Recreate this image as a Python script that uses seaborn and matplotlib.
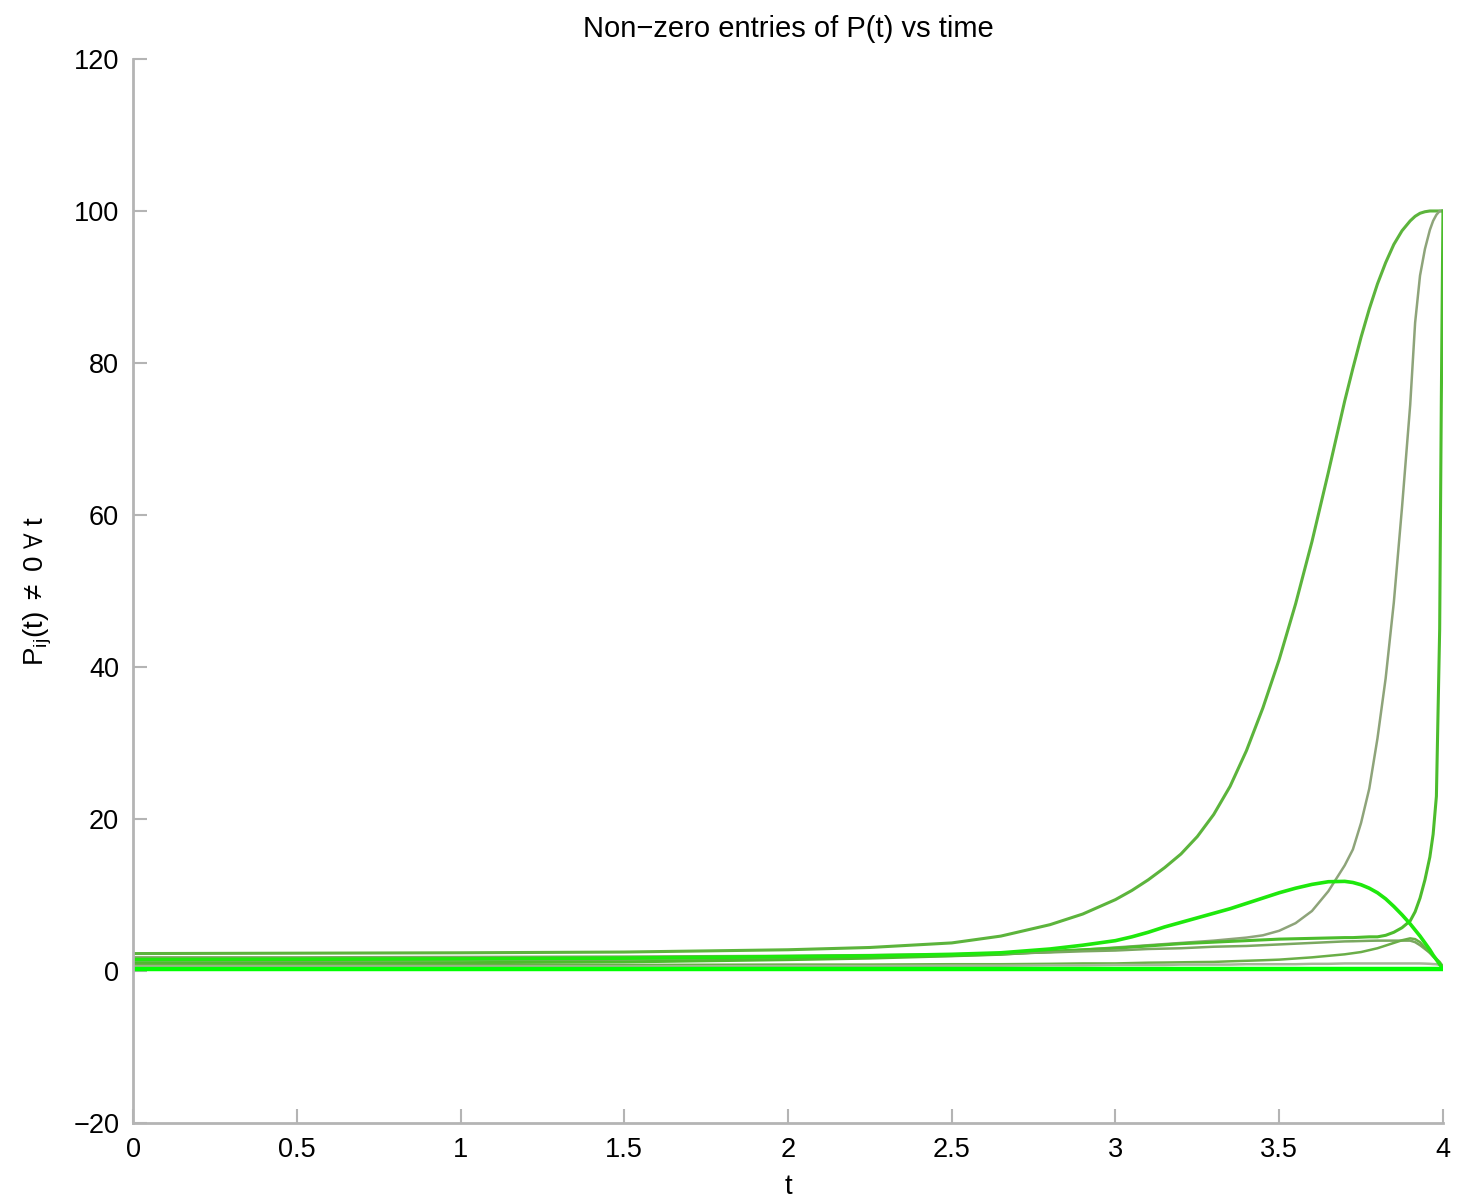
import matplotlib
matplotlib.use("Agg")
import matplotlib.pyplot as plt
import seaborn as sns
import numpy as np
import pandas as pd

# ---- data ----
t = [0, 0.5, 1, 1.5, 2, 2.25, 2.5, 2.65, 2.8, 2.9,
     3.0, 3.05, 3.1, 3.15, 3.2, 3.25, 3.3, 3.35, 3.4, 3.45,
     3.5, 3.55, 3.6, 3.65, 3.7, 3.725, 3.75, 3.775, 3.8, 3.825,
     3.85, 3.875, 3.9, 3.915, 3.93, 3.945, 3.96, 3.97, 3.98, 3.99,
     3.995, 4.0]

p_big = [2.3, 2.35, 2.4, 2.5, 2.8, 3.1, 3.7, 4.6, 6.1, 7.5,
         9.4, 10.6, 12.0, 13.6, 15.4, 17.7, 20.6, 24.3, 29.0, 34.6,
         41.0, 48.3, 56.5, 65.6, 75.0, 79.3, 83.4, 87.1, 90.4, 93.2,
         95.6, 97.4, 98.7, 99.3, 99.7, 99.9, 100, 100, 100, 100,
         100, 100]
p_steep = [1.3, 1.35, 1.4, 1.5, 1.7, 1.85, 2.0, 2.2, 2.5, 2.8,
           3.1, 3.25, 3.4, 3.55, 3.7, 3.85, 4.0, 4.2, 4.4, 4.7,
           5.3, 6.3, 7.9, 10.5, 13.9, 16.0, 19.5, 24.0, 30.6, 38.5,
           48.5, 61.0, 74.5, 85.3, 91.5, 95.0, 97.5, 98.7, 99.5, 100,
           100, 100]
p_edge = [1.0, 1.05, 1.1, 1.2, 1.5, 1.7, 2.0, 2.2, 2.6, 2.8,
          3.0, 3.15, 3.3, 3.45, 3.6, 3.7, 3.8, 3.9, 4.0, 4.1,
          4.2, 4.25, 4.3, 4.35, 4.4, 4.4, 4.45, 4.5, 4.5, 4.7,
          5.1, 5.7, 6.6, 7.8, 9.6, 12.0, 15.0, 18.0, 23.0, 45.0,
          75.0, 100]
p_hump = [1.5, 1.55, 1.6, 1.7, 1.9, 2.0, 2.2, 2.4, 2.9, 3.4,
          4.0, 4.5, 5.1, 5.8, 6.4, 7.0, 7.6, 8.2, 8.9, 9.6,
          10.3, 10.9, 11.4, 11.75, 11.8, 11.65, 11.35, 10.9, 10.3, 9.5,
          8.5, 7.4, 6.2, 5.4, 4.6, 3.7, 2.8, 2.1, 1.5, 0.9,
          0.6, 0.4]
p_small = [0.8, 0.8, 0.8, 0.8, 0.85, 0.85, 0.9, 0.9, 0.95, 1.0,
           1.0, 1.05, 1.1, 1.12, 1.15, 1.18, 1.2, 1.28, 1.35, 1.42,
           1.5, 1.65, 1.8, 2.0, 2.2, 2.35, 2.5, 2.75, 3.0, 3.35,
           3.7, 4.05, 4.3, 4.2, 3.8, 3.1, 2.4, 2.0, 1.6, 1.2,
           0.9, 0.6]
p_mid = [1.8, 1.8, 1.85, 1.9, 2.0, 2.1, 2.2, 2.3, 2.45, 2.6,
         2.7, 2.8, 2.9, 2.95, 3.0, 3.1, 3.2, 3.25, 3.3, 3.4,
         3.5, 3.6, 3.7, 3.8, 3.9, 3.92, 3.95, 3.98, 4.0, 4.0,
         4.0, 4.0, 4.0, 3.8, 3.4, 2.9, 2.4, 1.9, 1.5, 1.0,
         0.8, 0.5]
p_low = [0.6, 0.6, 0.6, 0.6, 0.65, 0.65, 0.7, 0.7, 0.75, 0.75,
         0.8, 0.8, 0.8, 0.8, 0.85, 0.85, 0.85, 0.85, 0.9, 0.9,
         0.9, 0.9, 0.95, 0.95, 1.0, 1.0, 1.0, 1.0, 1.0, 1.0,
         1.0, 1.0, 1.0, 1.0, 1.0, 0.98, 0.95, 0.92, 0.9, 0.8,
         0.7, 0.5]
p_zero = [0.25] * len(t)

series = [
    ("big", p_big, "#5cb43c", 2.2),
    ("steep", p_steep, "#8ea47a", 1.8),
    ("edge", p_edge, "#4cbc2c", 2.2),
    ("mid", p_mid, "#7aa860", 1.8),
    ("small", p_small, "#6aae48", 1.8),
    ("low", p_low, "#a8b49a", 1.8),
    ("hump", p_hump, "#1ee80c", 2.6),
    ("zero", p_zero, "#00ff00", 3.2),
]

plt.rcParams["font.family"] = ["Liberation Sans", "DejaVu Sans"]
plt.rcParams["mathtext.fontset"] = "custom"
plt.rcParams["mathtext.rm"] = "Liberation Sans"
plt.rcParams["mathtext.it"] = "Liberation Sans"
plt.rcParams["mathtext.fallback"] = "stixsans"

fig = plt.figure(figsize=(14.59, 12.01), dpi=100)
ax = fig.add_axes([0.0912, 0.0649, 0.8978, 0.886])

for name, vals, col, lw in series:
    df = pd.DataFrame({"t": t, "P": vals})
    sns.lineplot(data=df, x="t", y="P", color=col, lw=lw, ax=ax,
                 estimator=None, sort=False)

ax.set_xlim(0, 4)
ax.set_ylim(-20, 120)
ax.set_xticks(np.arange(0, 4.01, 0.5))
ax.set_xticklabels(["0", "0.5", "1", "1.5", "2", "2.5", "3", "3.5", "4"])
ax.set_yticks(np.arange(-20, 121, 20))
for s in ["top", "right"]:
    ax.spines[s].set_visible(False)
for s in ["left", "bottom"]:
    ax.spines[s].set_color("#b4b4b4")
    ax.spines[s].set_linewidth(2)
ax.tick_params(direction="in", length=10, width=1.5, color="#b4b4b4",
               labelsize=19.5, labelcolor="black", pad=10)
ax.set_title("Non\u2212zero entries of P(t) vs time", fontsize=21, pad=16)
ax.set_xlabel("t", fontsize=20, labelpad=8)
ax.set_ylabel(r"P$_{\mathrm{ij}}$(t) $\neq$ 0 $\forall$ t", fontsize=20, labelpad=14)

fig.savefig("out.png", dpi=100)
